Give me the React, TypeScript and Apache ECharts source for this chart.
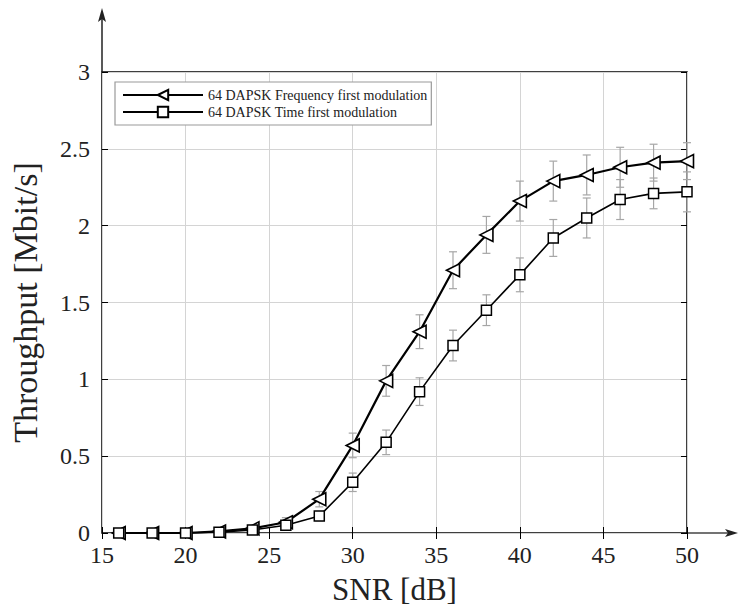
import React, { useEffect, useRef } from "react";
import * as echarts from "echarts";

const snr = [16, 18, 20, 22, 24, 26, 28, 30, 32, 34, 36, 38, 40, 42, 44, 46, 48, 50];
const freqFirst = [0, 0, 0, 0.01, 0.03, 0.07, 0.22, 0.57, 0.99, 1.31, 1.71, 1.94, 2.16, 2.29, 2.33, 2.38, 2.41, 2.42];
const timeFirst = [0, 0, 0, 0.005, 0.02, 0.05, 0.11, 0.33, 0.59, 0.92, 1.22, 1.45, 1.68, 1.92, 2.05, 2.17, 2.21, 2.22];
const freqErr = [0.005, 0.005, 0.005, 0.005, 0.02, 0.03, 0.05, 0.08, 0.1, 0.11, 0.12, 0.12, 0.13, 0.13, 0.13, 0.13, 0.12, 0.12];
const timeErr = [0.005, 0.005, 0.005, 0.005, 0.015, 0.02, 0.03, 0.06, 0.08, 0.09, 0.1, 0.1, 0.11, 0.12, 0.13, 0.13, 0.1, 0.13];
const seriesNames = ["64 DAPSK Frequency first modulation", "64 DAPSK Time first modulation"];
const xTicks = { min: 15, max: 50, interval: 5 };
const yTicks = { min: 0, max: 3, interval: 0.5 };
const xTitle = "SNR [dB]";
const yTitle = "Throughput [Mbit/s]";

const FONT = "'Liberation Serif', 'Times New Roman', serif";

function errData(vals: number[], errs: number[]) {
  return snr.map((x, i) => [x, vals[i] - errs[i], vals[i] + errs[i]]);
}

function errSeries(vals: number[], errs: number[]) {
  return {
    type: "custom",
    z: 1,
    silent: true,
    data: errData(vals, errs),
    encode: { x: 0, y: [1, 2] },
    renderItem: (params: any, api: any) => {
      const x = api.value(0);
      const lo = api.coord([x, api.value(1)]);
      const hi = api.coord([x, api.value(2)]);
      const w = 4;
      const style = { stroke: "#a6a6a6", lineWidth: 1.2 };
      return {
        type: "group",
        children: [
          { type: "line", shape: { x1: lo[0], y1: lo[1], x2: hi[0], y2: hi[1] }, style },
          { type: "line", shape: { x1: lo[0] - w, y1: lo[1], x2: lo[0] + w, y2: lo[1] }, style },
          { type: "line", shape: { x1: hi[0] - w, y1: hi[1], x2: hi[0] + w, y2: hi[1] }, style },
        ],
      };
    },
  };
}

export default function App() {
  const ref = useRef<HTMLDivElement>(null);
  useEffect(() => {
    document.body.style.margin = "0";
    const chart = echarts.init(ref.current!, null, { renderer: "svg" });
    const L = 102, R = 687, T = 72, B = 533;
    chart.setOption({
      animation: false,
      backgroundColor: "#fff",
      grid: {
        left: L, right: 740 - R, top: T, bottom: 614 - B,
        show: true, borderColor: "#000", borderWidth: 1.5, backgroundColor: "transparent",
      },
      xAxis: [
        {
          type: "value", ...xTicks, position: "bottom",
          axisLine: { show: false },
          axisTick: { show: true, inside: true, length: 6, lineStyle: { color: "#000", width: 1 } },
          axisLabel: { fontFamily: FONT, fontSize: 24, color: "#222", margin: 10 },
          splitLine: { show: true, lineStyle: { color: "#d4d4d4", width: 1 } },
          name: xTitle, nameLocation: "middle", nameGap: 41,
          nameTextStyle: { fontFamily: FONT, fontSize: 31, color: "#222" },
        },
        {
          type: "value", ...xTicks, position: "top",
          axisLine: { show: false },
          axisTick: { show: true, inside: true, length: 6, lineStyle: { color: "#000", width: 1 } },
          axisLabel: { show: false },
          splitLine: { show: false },
        },
      ],
      yAxis: [
        {
          type: "value", ...yTicks, position: "left",
          axisLine: { show: false },
          axisTick: { show: true, inside: true, length: 6, lineStyle: { color: "#000", width: 1 } },
          axisLabel: { fontFamily: FONT, fontSize: 24, color: "#222", margin: 12 },
          splitLine: { show: true, lineStyle: { color: "#d4d4d4", width: 1 } },
          name: yTitle, nameLocation: "middle", nameGap: 60, nameRotate: 90,
          nameTextStyle: { fontFamily: FONT, fontSize: 34, color: "#222" },
        },
        {
          type: "value", ...yTicks, position: "right",
          axisLine: { show: false },
          axisTick: { show: true, inside: true, length: 6, lineStyle: { color: "#000", width: 1 } },
          axisLabel: { show: false },
          splitLine: { show: false },
        },
      ],
      legend: {
        orient: "vertical",
        left: 115, top: 82,
        itemWidth: 80, itemHeight: 13, itemGap: 3,
        padding: [6, 4, 6, 7],
        backgroundColor: "#fff",
        borderColor: "#9a9a9a", borderWidth: 1.2,
        textStyle: { fontFamily: FONT, fontSize: 14, color: "#222" },
        data: seriesNames,
      },
      series: [
        errSeries(freqFirst, freqErr),
        errSeries(timeFirst, timeErr),
        {
          name: seriesNames[0], type: "line", z: 3,
          data: snr.map((x, i) => [x, freqFirst[i]]),
          symbol: "triangle", symbolRotate: 90, symbolSize: 13,
          lineStyle: { color: "#000", width: 2.2 },
          itemStyle: { color: "#fff", borderColor: "#000", borderWidth: 1.6 },
        },
        {
          name: seriesNames[1], type: "line", z: 3,
          data: snr.map((x, i) => [x, timeFirst[i]]),
          symbol: "rect", symbolSize: 10,
          lineStyle: { color: "#000", width: 1.6 },
          itemStyle: { color: "#fff", borderColor: "#000", borderWidth: 1.5 },
        },
      ],
      graphic: [
        { type: "line", shape: { x1: L, y1: T, x2: L, y2: 14 }, style: { stroke: "#222", lineWidth: 1.5 } },
        { type: "polygon", shape: { points: [[L, 8], [L - 4, 22], [L, 19], [L + 4, 22]] }, style: { fill: "#222" } },
        { type: "line", shape: { x1: R, y1: B, x2: 732, y2: B }, style: { stroke: "#444", lineWidth: 1.5 } },
        { type: "polygon", shape: { points: [[738, B], [725, B - 4], [728, B], [725, B + 4]] }, style: { fill: "#222" } },
      ],
    });
    return () => chart.dispose();
  }, []);
  return <div ref={ref} style={{ width: 740, height: 614, position: "absolute", left: 0, top: 0 }} />;
}
